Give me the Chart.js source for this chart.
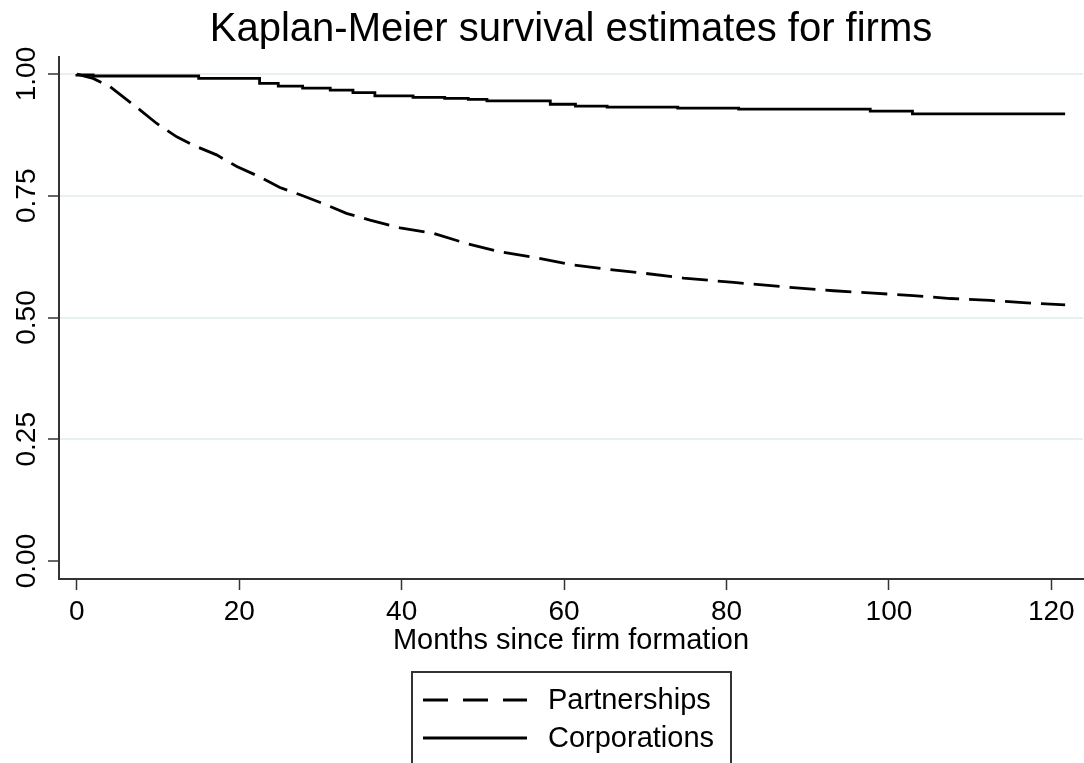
<!DOCTYPE html>
<html>
<head>
<meta charset="utf-8">
<script src="https://cdn.jsdelivr.net/npm/chart.js@4/dist/chart.umd.min.js"></script>
<style>
  html, body { margin: 0; padding: 0; background: #ffffff; }
  canvas { display: block; }
</style>
</head>
<body>
<canvas id="c" width="1084" height="763"></canvas>
<script>
// ---- Data ----
const chartTitle = 'Kaplan-Meier survival estimates for firms';
const xAxisTitle = 'Months since firm formation';
const seriesNames = ['Partnerships', 'Corporations'];

const xTickValues = [0, 20, 40, 60, 80, 100, 120];
const yTickValues = [0, 0.25, 0.5, 0.75, 1];
const yTickLabels = ['0.00', '0.25', '0.50', '0.75', '1.00'];

const partMonths = [0, 2, 4.1, 5.7, 7.8, 9.8, 12.3, 14.3, 17.2, 19.7, 22.5, 25, 27.5, 30.3, 33.2, 36.1,
  39.8, 43.9, 48, 52.1, 56.2, 61.1, 65.3, 69.8, 74.7, 80.9, 87.8, 93.2, 98.1, 103, 107.6, 112.5, 117, 121.7];
const partSurvival = [1.000, 0.991, 0.974, 0.953, 0.926, 0.899, 0.871, 0.854, 0.834, 0.810, 0.789, 0.767,
  0.752, 0.734, 0.714, 0.700, 0.684, 0.673, 0.652, 0.635, 0.624, 0.608, 0.599, 0.591, 0.581, 0.572, 0.562,
  0.555, 0.550, 0.545, 0.539, 0.535, 0.530, 0.526];

const corpMonths = [0, 2, 15, 22.5, 24.8, 27.8, 31.2, 34, 36.7, 41.4, 45.3, 48.2, 50.5, 58.3, 61.4, 65.3,
  74, 81.5, 97.7, 102.9, 110, 121.7];
const corpSurvival = [1.000, 0.998, 0.996, 0.991, 0.981, 0.975, 0.971, 0.967, 0.962, 0.955, 0.952, 0.950,
  0.948, 0.945, 0.938, 0.934, 0.932, 0.930, 0.928, 0.924, 0.918, 0.918];

// ---- Styling ----
const FONT = '"Liberation Sans", Arial, Helvetica, sans-serif';
const AXIS = '#333333';
const GRID = '#e9f0f0';

const legendBox = {
  id: 'legendBox',
  afterDraw(chart) {
    const ctx = chart.ctx;
    ctx.save();
    ctx.strokeStyle = AXIS;
    ctx.lineWidth = 2;
    ctx.strokeRect(412, 672, 319, 120);
    chart.data.datasets.forEach((ds, i) => {
      const y = 700 + i * 38;
      ctx.beginPath();
      ctx.setLineDash(ds.legendDash || []);
      ctx.lineWidth = ds.borderWidth;
      ctx.strokeStyle = ds.borderColor;
      ctx.moveTo(423, y);
      ctx.lineTo(527, y);
      ctx.stroke();
      ctx.setLineDash([]);
      ctx.fillStyle = '#000';
      ctx.font = '29px ' + FONT;
      ctx.textBaseline = 'middle';
      ctx.textAlign = 'left';
      ctx.fillText(ds.label, 548, y + 1);
    });
    ctx.restore();
  }
};

new Chart(document.getElementById('c').getContext('2d'), {
  type: 'line',
  data: {
    datasets: [
      {
        label: seriesNames[0],
        data: partMonths.map((m, i) => ({ x: m, y: partSurvival[i] })),
        borderColor: '#000',
        borderWidth: 2.8,
        borderDash: [26, 10],
        legendDash: [25, 15],
        pointRadius: 0,
        tension: 0,
        fill: false
      },
      {
        label: seriesNames[1],
        data: corpMonths.map((m, i) => ({ x: m, y: corpSurvival[i] })),
        borderColor: '#000',
        borderWidth: 2.8,
        stepped: 'after',
        pointRadius: 0,
        fill: false
      }
    ]
  },
  options: {
    responsive: false,
    animation: false,
    devicePixelRatio: 1,
    layout: { padding: { top: 0, left: 0, right: 1, bottom: 105 } },
    plugins: {
      legend: { display: false },
      tooltip: { enabled: false },
      title: {
        display: true,
        text: chartTitle,
        fullSize: false,
        color: '#000',
        font: { family: FONT, size: 40, weight: 'normal', lineHeight: 1.2 },
        padding: { top: 6, bottom: 3 }
      }
    },
    scales: {
      x: {
        type: 'linear',
        min: -2.2,
        max: 123.9,
        afterBuildTicks: s => { s.ticks = xTickValues.map(v => ({ value: v })); },
        afterFit: s => { s.height = 79; },
        grid: { drawOnChartArea: false, drawTicks: true, tickLength: 11, tickColor: AXIS, tickWidth: 1.5 },
        border: { display: true, color: AXIS, width: 2 },
        ticks: {
          color: '#000',
          font: { family: FONT, size: 28 },
          padding: 5,
          maxRotation: 0,
          minRotation: 0,
          callback: v => String(v)
        },
        title: {
          display: true,
          text: xAxisTitle,
          color: '#000',
          font: { family: FONT, size: 29, lineHeight: 1.2 },
          padding: { top: 0, bottom: 0 }
        }
      },
      y: {
        type: 'linear',
        min: -0.037,
        max: 1.035,
        afterBuildTicks: s => { s.ticks = yTickValues.map(v => ({ value: v })); },
        afterFit: s => { s.width = 59; },
        grid: {
          color: c => (c.tick && c.tick.value === 0) ? 'rgba(0,0,0,0)' : GRID,
          lineWidth: 2,
          tickLength: 11,
          tickColor: AXIS,
          tickWidth: 1.5
        },
        border: { display: true, color: AXIS, width: 2 },
        ticks: {
          color: '#000',
          font: { family: FONT, size: 28 },
          minRotation: 90,
          maxRotation: 90,
          crossAlign: 'center',
          padding: -7,
          callback: v => {
            const i = yTickValues.indexOf(v);
            return i >= 0 ? yTickLabels[i] : '';
          }
        }
      }
    }
  },
  plugins: [legendBox]
});
</script>
</body>
</html>
